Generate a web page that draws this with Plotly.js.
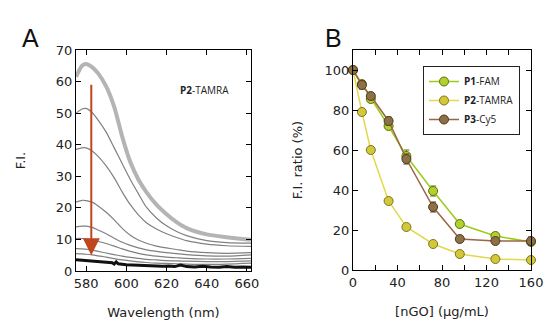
<!DOCTYPE html>
<html>
<head>
<meta charset="utf-8">
<script src="https://cdn.plot.ly/plotly-3.0.1.min.js"></script>
<style>html,body{margin:0;padding:0;background:#fff;}#chart{width:550px;height:330px;}</style>
</head>
<body>
<div id="chart"></div>
<script>
// ---------- Panel A: emission spectra (P2-TAMRA) ----------
const wavelengths = [575, 578, 580, 583, 586, 590, 594, 598, 602, 606, 610, 615, 620, 625, 630, 640, 650, 662];
const spec0 = [61.5, 65.0, 65.6, 64.6, 62.6, 58.5, 52.0, 42.5, 34.5, 29.0, 25.0, 21.0, 18.0, 15.5, 13.6, 11.6, 10.7, 9.9];
const spec1 = [50.0, 51.3, 51.5, 50.2, 47.8, 44.0, 39.0, 34.0, 29.0, 24.5, 20.2, 16.8, 14.3, 12.5, 11.2, 9.6, 9.0, 8.8];
const spec2 = [38.5, 39.0, 39.0, 38.0, 36.3, 33.3, 29.5, 25.0, 21.0, 17.8, 15.3, 13.3, 11.8, 10.6, 9.6, 8.5, 8.0, 7.8];
const spec3 = [21.8, 22.4, 22.3, 21.8, 20.6, 18.6, 16.2, 13.5, 11.3, 9.8, 8.8, 7.9, 7.3, 6.8, 6.3, 5.8, 5.6, 5.8];
const spec4 = [14.0, 14.2, 14.2, 13.8, 13.0, 11.8, 10.4, 9.1, 8.1, 7.3, 6.7, 6.2, 5.8, 5.5, 5.2, 4.8, 4.7, 5.1];
const spec5 = [10.3, 10.3, 10.2, 9.9, 9.4, 8.7, 7.9, 7.0, 6.2, 5.6, 5.1, 4.7, 4.4, 4.2, 4.0, 3.8, 3.8, 4.0];
const spec6 = [7.1, 7.0, 6.9, 6.6, 6.2, 5.7, 5.2, 4.7, 4.3, 4.0, 3.7, 3.5, 3.3, 3.2, 3.1, 3.0, 3.0, 3.2];
const spec7 = [5.5, 5.4, 5.3, 5.1, 4.8, 4.4, 3.9, 3.5, 3.2, 2.9, 2.7, 2.5, 2.4, 2.3, 2.2, 2.1, 2.2, 2.5];
const blackWl = [575, 577, 579, 581, 583, 585, 587, 589, 591, 593, 594, 595, 596, 598, 600, 603, 606, 609, 612, 615, 618, 621, 624, 627, 630, 634, 638, 642, 646, 650, 654, 658, 662];
const blackFI = [3.6, 3.5, 3.5, 3.4, 3.3, 3.2, 3.0, 2.9, 2.7, 2.6, 2.2, 2.9, 2.3, 2.1, 2.0, 1.9, 1.8, 1.8, 1.6, 1.7, 1.5, 1.6, 1.4, 1.9, 1.4, 1.3, 1.5, 1.3, 1.2, 1.4, 1.2, 1.3, 1.2];

// ---------- Panel B: F.I. ratio vs [nGO] ----------
const nGO = [0, 8, 16, 32, 48, 72, 96, 128, 160];
const p1FAM = [100, 93, 85.5, 72, 57, 39.5, 23, 17, 14];
const p1Err = [1, 1.5, 1.2, 1.5, 3, 2.5, 1, 1.5, 1.5];
const p2TAMRA = [100, 79, 60, 34.5, 21.5, 13, 8, 5.5, 5];
const p2Err = [0.5, 0.8, 0.8, 0.8, 0.8, 0.5, 0.5, 0.5, 0.5];
const p3Cy5 = [100, 92.5, 87, 74.5, 55.5, 31.5, 15.5, 14.5, 14.5];
const p3Err = [1, 2, 1.2, 2, 2.5, 2.5, 1.5, 1.5, 2];

const thinSpectra = [spec1, spec2, spec3, spec4, spec5, spec6, spec7];

const traces = [];
traces.push({x: wavelengths, y: spec0, type: 'scatter', mode: 'lines', xaxis: 'x', yaxis: 'y',
  line: {color: '#b4b4b4', width: 4, shape: 'spline', smoothing: 0.7}, showlegend: false, hoverinfo: 'skip'});
thinSpectra.forEach(s => traces.push({x: wavelengths, y: s, type: 'scatter', mode: 'lines', xaxis: 'x', yaxis: 'y',
  line: {color: '#808080', width: 1.2, shape: 'spline', smoothing: 0.7}, showlegend: false, hoverinfo: 'skip'}));
traces.push({x: blackWl, y: blackFI, type: 'scatter', mode: 'lines', xaxis: 'x', yaxis: 'y',
  line: {color: '#111111', width: 3}, showlegend: false, hoverinfo: 'skip'});

function series(name, yv, err, lineColor, fill, outline) {
  return {x: nGO, y: yv, name: name, type: 'scatter', mode: 'lines+markers', xaxis: 'x2', yaxis: 'y2',
    cliponaxis: false,
    line: {color: lineColor, width: 1.5},
    marker: {size: 9, color: fill, line: {color: outline, width: 1}},
    error_y: {type: 'data', array: err, visible: true, color: outline, thickness: 1, width: 3}};
}
traces.push(series('<b>P1</b>-FAM', p1FAM, p1Err, '#9ccc1a', '#b2d12a', '#5f6e12'));
traces.push(series('<b>P2</b>-TAMRA', p2TAMRA, p2Err, '#e2d84c', '#d2c83a', '#7d7420'));
traces.push(series('<b>P3</b>-Cy5', p3Cy5, p3Err, '#9c6446', '#8c7046', '#4f3a20'));

const axFont = {family: 'DejaVu Sans', size: 13, color: '#222'};
const baseAxis = {showline: true, linecolor: '#000', linewidth: 1, mirror: 'allticks', ticks: 'inside',
  ticklen: 5, tickcolor: '#000', tickwidth: 1, showgrid: false, zeroline: false, tickfont: axFont, automargin: false};

const layout = {
  width: 550, height: 330,
  margin: {l: 0, r: 0, t: 0, b: 0},
  paper_bgcolor: '#fff', plot_bgcolor: '#fff',
  font: {family: 'DejaVu Sans', color: '#222'},
  xaxis: Object.assign({}, baseAxis, {domain: [76/550, 251/550], range: [575, 662], tickvals: [580, 600, 620, 640, 660],
    anchor: 'y', title: {text: 'Wavelength (nm)', font: {family: 'DejaVu Sans', size: 13, color: '#222'}, standoff: 18}}),
  yaxis: Object.assign({}, baseAxis, {domain: [59/330, 280/330], range: [0, 70], dtick: 10, anchor: 'x',
    title: {text: 'F.I.', font: {family: 'DejaVu Sans', size: 13, color: '#222'}, standoff: 27}}),
  xaxis2: Object.assign({}, baseAxis, {domain: [353/550, 531/550], range: [0, 160], tickvals: [0, 20, 40, 60, 80, 100, 120, 140, 160],
    ticktext: ['0', '', '40', '', '80', '', '120', '', '160'], anchor: 'y2',
    title: {text: '[nGO] (μg/mL)', font: {family: 'DejaVu Sans', size: 13, color: '#222'}, standoff: 18}}),
  yaxis2: Object.assign({}, baseAxis, {domain: [60/330, 280/330], range: [0, 110], tickvals: [0, 20, 40, 60, 80, 100], anchor: 'x2',
    title: {text: 'F.I. ratio (%)', font: {family: 'DejaVu Sans', size: 13, color: '#222'}, standoff: 19}}),
  showlegend: true,
  legend: {x: 423/550, y: 264/330, xanchor: 'left', yanchor: 'top', bgcolor: '#fff', bordercolor: '#222', borderwidth: 1,
    font: {family: 'Open Sans', size: 10, color: '#222'}, itemwidth: 30, tracegroupgap: 0},
  annotations: [
    {xref: 'paper', yref: 'paper', x: 20/550, y: 1 - 22/330, text: 'A', showarrow: false,
      font: {family: 'Liberation Sans', size: 25, color: '#111'}},
    {xref: 'paper', yref: 'paper', x: 333/550, y: 1 - 22/330, text: 'B', showarrow: false,
      font: {family: 'Liberation Sans', size: 25, color: '#111'}},
    {xref: 'paper', yref: 'paper', x: 204/550, y: 1 - 81/330, text: '<b>P2</b>-TAMRA', showarrow: false,
      font: {family: 'Open Sans', size: 10, color: '#222'}},
    {xref: 'x', yref: 'y', x: 582.6, y: 5, axref: 'x', ayref: 'y', ax: 582.6, ay: 59.5, text: '', showarrow: true,
      arrowhead: 2, arrowsize: 1.7, arrowwidth: 2, arrowcolor: '#c0461e'}
  ]
};

Plotly.newPlot('chart', traces, layout, {staticPlot: true, displayModeBar: false});
</script>
</body>
</html>
